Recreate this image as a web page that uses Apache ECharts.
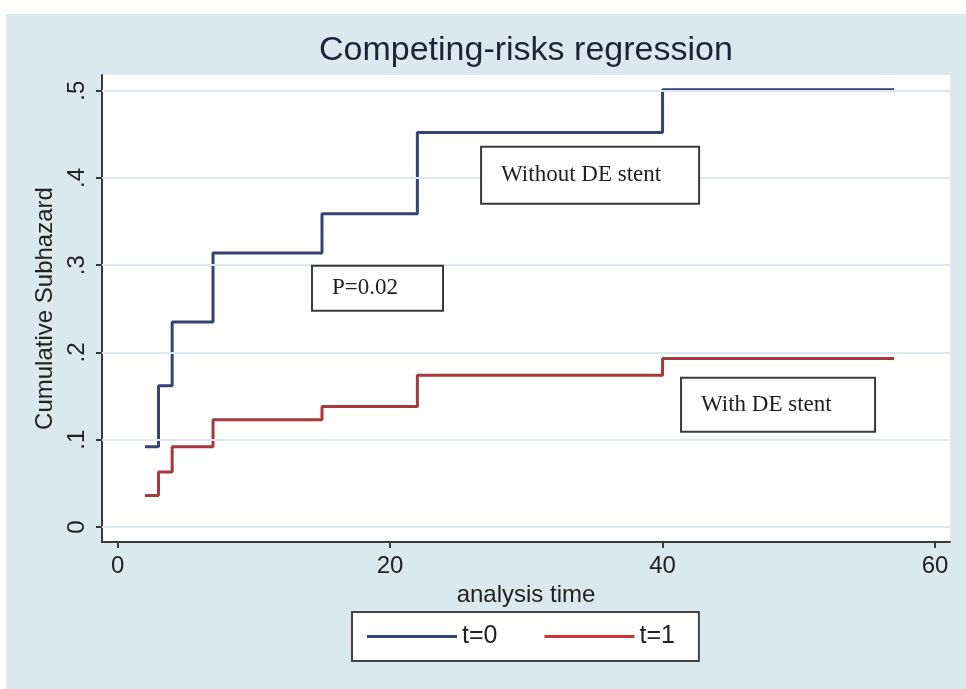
<!DOCTYPE html>
<html><head><meta charset="utf-8">
<script src="https://cdn.jsdelivr.net/npm/echarts@6/dist/echarts.min.js"></script>
<style>
html,body{margin:0;padding:0;background:#fff;}
#bg{position:absolute;left:6px;top:14px;width:960px;height:675px;background:#dbe8ed;}
#chart{position:absolute;left:0;top:0;width:966px;height:689px;}
</style></head><body>
<div id="bg"></div><div id="chart"></div>
<script>
// Data
const times = [2, 3, 4, 7, 15, 22, 40, 57];
const hazardT0 = [0.092, 0.162, 0.235, 0.314, 0.359, 0.452, 0.501, 0.501];
const hazardT1 = [0.036, 0.063, 0.092, 0.123, 0.138, 0.174, 0.193, 0.193];
const seriesNames = ['t=0', 't=1'];
const xTicks = [0, 20, 40, 60];
const yTicks = [0, 0.1, 0.2, 0.3, 0.4, 0.5];
const noteTexts = ['Without DE stent', 'With DE stent', 'P=0.02'];

const sans = 'Liberation Sans, Arial, sans-serif';
const serif = 'Liberation Serif, Times New Roman, serif';
const axisColor = '#3a3a3a';

const chart = echarts.init(document.getElementById('chart'));
function noteLabel(text, w, h) {
  return {
    show: true, position: 'inside', formatter: text,
    color: '#1e1e1e', fontFamily: serif, fontSize: 23,
    backgroundColor: '#fff', borderColor: '#3a3a3a', borderWidth: 2,
    align: 'left', verticalAlign: 'middle',
    padding: [0, 0, 0, 19], width: w - 19, height: h, lineHeight: h
  };
}
chart.setOption({
  animation: false,
  backgroundColor: 'transparent',
  title: {
    text: 'Competing-risks regression',
    left: 319, top: 34, padding: 0,
    textStyle: { fontFamily: sans, fontSize: 34, fontWeight: 'normal', color: '#1e2438' }
  },
  legend: {
    data: seriesNames,
    left: 352, top: 612,
    icon: 'rect', itemWidth: 90, itemHeight: 3, itemGap: 47,
    padding: [12, 24, 12, 15],
    borderColor: '#444', borderWidth: 2, borderRadius: 0,
    backgroundColor: '#fff',
    selectedMode: false,
    textStyle: { fontFamily: sans, fontSize: 25, color: '#222' }
  },
  grid: {
    left: 102, right: 16, top: 75, bottom: 689 - 542,
    show: true, backgroundColor: '#fff', borderWidth: 0
  },
  xAxis: {
    type: 'value', min: -1.15, max: 61.1,
    axisLine: { show: true, onZero: false, lineStyle: { color: axisColor, width: 2 } },
    axisTick: { show: true, customValues: xTicks, length: 6, lineStyle: { color: axisColor, width: 2 } },
    axisLabel: { customValues: xTicks, fontFamily: sans, fontSize: 24, color: '#222', margin: 12 },
    splitLine: { show: false },
    name: 'analysis time', nameLocation: 'middle', nameGap: 37,
    nameTextStyle: { fontFamily: sans, fontSize: 24, color: '#222' }
  },
  yAxis: {
    type: 'value', min: -0.0172, max: 0.518,
    axisLine: { show: true, onZero: false, lineStyle: { color: axisColor, width: 2 } },
    axisTick: { show: true, customValues: yTicks, length: 6, lineStyle: { color: axisColor, width: 2 } },
    axisLabel: {
      customValues: yTicks, rotate: 90, fontFamily: sans, fontSize: 24, color: '#222', margin: 13,
      formatter: v => (v === 0 ? '0' : String(v).replace(/^0/, ''))
    },
    splitLine: { show: false },
    name: 'Cumulative Subhazard', nameLocation: 'middle', nameGap: 45,
    nameTextStyle: { fontFamily: sans, fontSize: 24, color: '#222' }
  },
  series: [
    {
      name: 'gridlines', type: 'line', data: [], z: 1, silent: true,
      markLine: {
        silent: true, symbol: 'none', label: { show: false },
        lineStyle: { color: '#dce8ed', width: 2, type: 'solid' },
        data: yTicks.map(v => ({ yAxis: v }))
      }
    },
    {
      name: seriesNames[0], type: 'line', step: 'end', z: 3,
      data: times.map((t, i) => [t, hazardT0[i]]),
      showSymbol: false, symbol: 'none',
      lineStyle: { color: '#354273', width: 3 },
      itemStyle: { color: '#34477a' }
    },
    {
      name: seriesNames[1], type: 'line', step: 'end', z: 3,
      data: times.map((t, i) => [t, hazardT1[i]]),
      showSymbol: false, symbol: 'none',
      lineStyle: { color: '#a5393c', width: 3 },
      itemStyle: { color: '#c9353a' }
    },
    {
      name: 'notes', type: 'line', data: [], z: 5, silent: true,
      markPoint: {
        silent: true, symbol: 'rect', symbolSize: 1,
        itemStyle: { color: 'rgba(0,0,0,0)' },
        data: [
          { name: noteTexts[0], coord: [26.75, 0.403], label: noteLabel(noteTexts[0], 216, 55) },
          { name: noteTexts[1], coord: [41.43, 0.140], label: noteLabel(noteTexts[1], 192, 52) },
          { name: noteTexts[2], coord: [14.34, 0.2735], label: noteLabel(noteTexts[2], 129, 43) }
        ]
      }
    }
  ]
});
</script>
</body></html>
